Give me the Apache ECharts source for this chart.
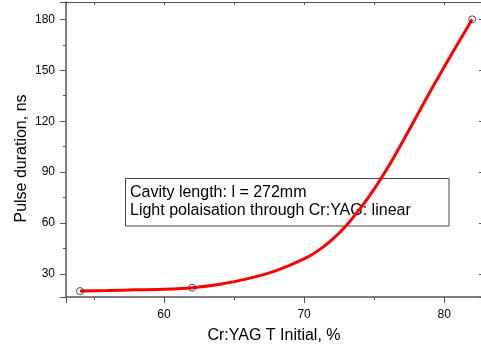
<!DOCTYPE html>
<html>
<head>
<meta charset="utf-8">
<script src="https://cdn.jsdelivr.net/npm/echarts@6/dist/echarts.min.js"></script>
<style>
html,body{margin:0;padding:0;background:#fff;}
#chart{width:481px;height:348px;}
</style>
</head>
<body>
<div id="chart"></div>
<script>
// Measured points (Cr:YAG initial transmission %, pulse duration ns)
var measuredX = [54, 62, 82];
var measuredY = [20, 22, 180];
// Fitted curve
var curveX = [54, 56, 58, 60, 62, 64, 66, 68, 70, 71, 72, 73, 74, 75, 76, 77, 78, 79, 80, 81, 82];
var curveY = [20, 20.3, 20.7, 21.1, 22, 24, 27.3, 32, 38.9, 43.8, 50.3, 58.5, 68.5, 80, 93, 107.5, 122.5, 137.5, 152, 166, 180];
var xName = 'Cr:YAG T Initial, %';
var yName = 'Pulse duration, ns';
var noteLines = ['Cavity length: l = 272mm', 'Light polaisation through Cr:YAG: linear'];

var FONT = 'Liberation Sans, Arial, sans-serif';
var chart = echarts.init(document.getElementById('chart'), null, {renderer: 'canvas'});

function zip(a, b) { return a.map(function (v, i) { return [v, b[i]]; }); }

var axisLineStyle = {color: '#555', width: 1.5};

chart.setOption({
  animation: false,
  backgroundColor: '#fff',
  grid: {left: 66, top: 2, width: 416, height: 295, containLabel: false, outerBoundsMode: 'none'},
  xAxis: [{
    type: 'value', position: 'bottom', min: 53, max: 82.7, splitNumber: 3,
    name: xName, nameLocation: 'middle', nameGap: 31, nameMoveOverlap: false,
    nameTextStyle: {fontFamily: FONT, fontSize: 16, color: '#000'},
    axisLine: {show: true, lineStyle: axisLineStyle},
    axisTick: {show: true, inside: false, length: 6, lineStyle: {color: '#555', width: 1}},
    minorTick: {show: true, splitNumber: 2, length: 3, lineStyle: {color: '#555', width: 1}},
    axisLabel: {fontFamily: FONT, fontSize: 12, color: '#000', margin: 12, showMinLabel: false, showMaxLabel: false},
    splitLine: {show: false}
  }, {
    type: 'value', position: 'top', min: 53, max: 82.7, splitNumber: 3,
    axisLine: {show: true, lineStyle: {color: '#555', width: 1}},
    axisTick: {show: true, inside: true, length: 3, lineStyle: {color: '#555', width: 1}},
    minorTick: {show: true, splitNumber: 2, length: 3, lineStyle: {color: '#555', width: 1}},
    axisLabel: {show: false},
    splitLine: {show: false}
  }],
  yAxis: [{
    type: 'value', position: 'left', min: 16.5, max: 190.2, splitNumber: 5,
    name: yName, nameLocation: 'middle', nameGap: 36, nameRotate: 90, nameMoveOverlap: false,
    nameTextStyle: {fontFamily: FONT, fontSize: 16, color: '#000', padding: [0, 18, 0, 0]},
    axisLine: {show: true, lineStyle: axisLineStyle},
    axisTick: {show: true, inside: false, length: 6, lineStyle: {color: '#555', width: 1}},
    minorTick: {show: true, splitNumber: 2, length: 3, lineStyle: {color: '#555', width: 1}},
    axisLabel: {fontFamily: FONT, fontSize: 12, color: '#000', margin: 11, showMinLabel: false, showMaxLabel: false},
    splitLine: {show: false}
  }, {
    type: 'value', position: 'right', min: 16.5, max: 190.2, splitNumber: 5,
    axisLine: {show: true, lineStyle: {color: '#555', width: 1}},
    axisTick: {show: true, inside: true, length: 3, lineStyle: {color: '#555', width: 1}},
    axisLabel: {show: false},
    splitLine: {show: false}
  }],
  series: [{
    type: 'line', xAxisIndex: 0, yAxisIndex: 0,
    data: zip(curveX, curveY), smooth: 0.3, showSymbol: false, symbol: 'none',
    lineStyle: {color: '#ff0000', width: 3}, z: 2
  }, {
    type: 'scatter', xAxisIndex: 0, yAxisIndex: 0,
    data: zip(measuredX, measuredY), symbol: 'circle', symbolSize: 7,
    itemStyle: {color: 'rgba(0,0,0,0)', borderColor: '#222', borderWidth: 1}, z: 3
  }],
  graphic: [{
    type: 'group', z: 100,
    children: [{
      type: 'rect', shape: {x: 125.5, y: 178.5, width: 323.5, height: 47.5},
      style: {fill: '#fff', stroke: '#444', lineWidth: 1}
    }, {
      type: 'text', x: 130, y: 184,
      style: {text: noteLines.join('\n'), font: '16px ' + FONT, lineHeight: 18, fill: '#000'}
    }]
  }]
});
</script>
</body>
</html>
